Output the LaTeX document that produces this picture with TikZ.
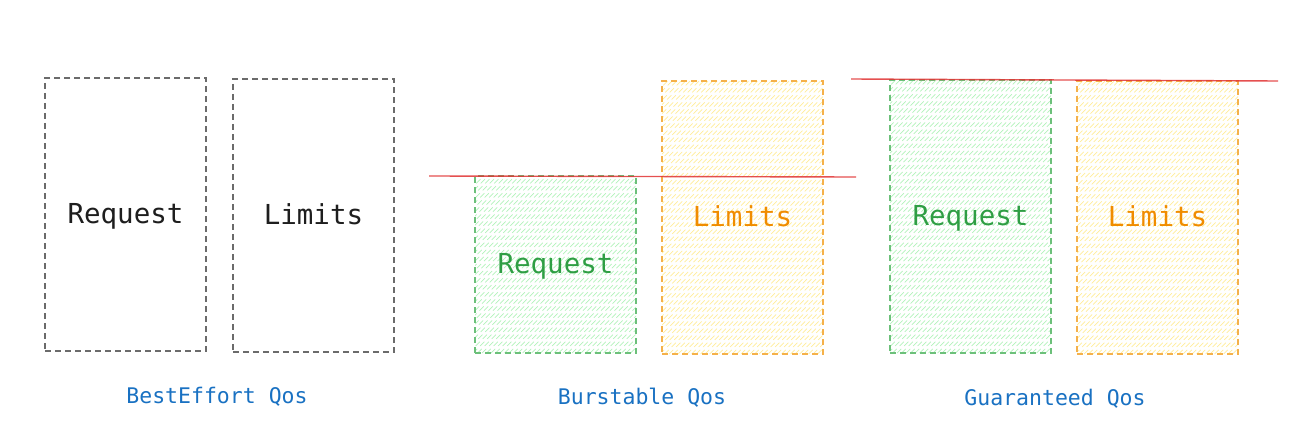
\documentclass[tikz,border=0pt]{standalone}
\usepackage{fontspec}
\setmonofont{DejaVu Sans Mono}
\definecolor{boxgray}{HTML}{6B6B6B}
\definecolor{txtdark}{HTML}{1E1E1E}
\definecolor{grnline}{HTML}{6CC07A}
\definecolor{grntxt}{HTML}{2F9E44}
\definecolor{grnfill}{HTML}{B2F2BB}
\definecolor{orgline}{HTML}{F5B14A}
\definecolor{orgtxt}{HTML}{F08C00}
\definecolor{orgfill}{HTML}{FFEC99}
\definecolor{redline}{HTML}{E03131}
\definecolor{bluetxt}{HTML}{1971C2}
\begin{document}
\begin{tikzpicture}[x=1pt,y=-1pt,
  qbox/.style={draw, line width=1.5pt, dash pattern=on 6pt off 4pt, minimum width=161pt, inner sep=0pt, text height=1.7em, text depth=0pt, font=\ttfamily\fontsize{27.5}{30}\selectfont},
  plainbox/.style={qbox, draw=boxgray, text=txtdark},
  hatched/.style={path picture={
      \foreach \i in {-290,-285.5,...,170}
        \draw[#1, line width=0.7pt] ([xshift=\i pt]path picture bounding box.south west) -- ++(400pt,400pt);}},
  reqbox/.style={qbox, draw=grnline, text=grntxt, hatched=grnfill},
  limbox/.style={qbox, draw=orgline, text=orgtxt, hatched=orgfill},
  qlabel/.style={text=bluetxt, font=\ttfamily\fontsize{21.5}{24}\selectfont},
  capline/.style={draw=redline, draw opacity=0.85, line width=1.4pt}]
\useasboundingbox (0,0) rectangle (1312,444);
% BestEffort
\node[plainbox, minimum height=273pt] (beReq) at (125.5,214.5) {Request};
\node[plainbox, minimum height=273pt] (beLim) at (313.5,215.5) {Limits};
\node[qlabel] (beLab) at (217,397) {BestEffort Qos};
% Burstable
\node[reqbox, minimum height=177pt] (buReq) at (555.5,264.5) {Request};
\node[limbox, minimum height=273pt] (buLim) at (742.5,217.5) {Limits};
\coordinate (buL) at (429,176);
\coordinate (buR) at (856,177);
\draw[capline] (buL) -- (buR);
\node[qlabel] (buLab) at (642,398) {Burstable Qos};
% Guaranteed
\node[reqbox, minimum height=273pt] (guReq) at (970.5,216.5) {Request};
\node[limbox, minimum height=273pt] (guLim) at (1157.5,217.5) {Limits};
\coordinate (guL) at (851,79);
\coordinate (guR) at (1278,81);
\draw[capline] (guL) -- (guR);
\node[qlabel] (guLab) at (1055,399) {Guaranteed Qos};
\end{tikzpicture}
\end{document}
